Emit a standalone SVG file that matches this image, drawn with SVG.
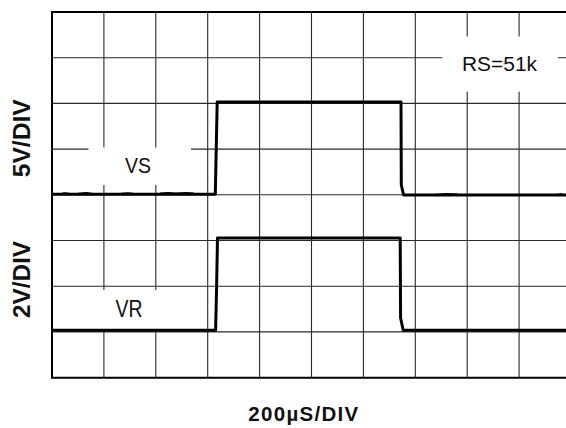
<svg xmlns="http://www.w3.org/2000/svg" width="566" height="428" viewBox="0 0 566 428">
<style>
.grid{stroke:#2a2a2a;stroke-width:1.1;fill:none}
.frame{stroke:#000;stroke-width:2;fill:none}
.trace{stroke:#000;stroke-width:3;fill:none;stroke-linejoin:round}
.noise{stroke:#000;stroke-width:1.2;fill:none}
.lbl{font-family:"Liberation Sans",Arial,sans-serif;fill:#111}
.bold{font-weight:bold}
</style>
<rect x="0" y="0" width="566" height="428" fill="#fff"/>
<g id="grid">
<path class="grid" d="M103.9 12V377.7M155.8 12V377.7M207.7 12V377.7M259.6 12V377.7M311.5 12V377.7M363.4 12V377.7M415.3 12V377.7M467.2 12V377.7M519.1 12V377.7"/>
<path class="grid" d="M52 57.7H566M52 103.4H566M52 149.1H566M52 194.8H566M52 240.5H566M52 286.2H566M52 331.9H566"/>
<path class="frame" d="M567 12H52V377.7H567"/>
</g>
<g id="label-boxes" fill="#fff">
<rect x="88.5" y="147.5" width="102.5" height="37.5"/>
<rect x="442.5" y="36.5" width="115.5" height="55.2"/>
<rect x="93" y="290" width="74" height="41"/>
</g>
<g id="connectors">
<path id="vs-trace" class="trace" d="M52 194.2H215.3L216.3 145L217.2 102H401L401.3 185L403.6 195H566"/>
<path id="vs-noise" class="noise" d="M62 193.2L66 192.8L70 193.5M78 193.4L86 192.7L92 193.3M121 193.3L128 192.8L133 193.4M160 193.2L168 192.6L176 193.1L186 192.7L194 193.2M436 194.3L446 193.6L458 194.2M556 194.6L562 193.7"/>
<path id="vr-trace" class="trace" d="M52 330.2H215.6L216.6 287L217.5 238H400.2L400.6 318L403.2 330.2H566"/>
</g>
<g id="label-vs"><text class="lbl" x="125" y="173.3" font-size="22" textLength="26" lengthAdjust="spacingAndGlyphs">VS</text></g>
<g id="label-rs"><text class="lbl" x="462" y="71" font-size="20" textLength="75" lengthAdjust="spacingAndGlyphs">RS=51k</text></g>
<g id="label-vr"><text class="lbl" x="115.5" y="317.3" font-size="23.5" textLength="27" lengthAdjust="spacingAndGlyphs">VR</text></g>
<g id="label-5v"><text class="lbl bold" transform="translate(30 138.3) rotate(-90)" x="0" y="0" text-anchor="middle" font-size="24" textLength="78" lengthAdjust="spacingAndGlyphs">5V/DIV</text></g>
<g id="label-2v"><text class="lbl bold" transform="translate(30 279.5) rotate(-90)" x="0" y="0" text-anchor="middle" font-size="24" textLength="77" lengthAdjust="spacingAndGlyphs">2V/DIV</text></g>
<g id="label-time"><text class="lbl bold" x="248.3" y="420.7" font-size="20.5" textLength="110" lengthAdjust="spacing">200µS/DIV</text></g>
</svg>
